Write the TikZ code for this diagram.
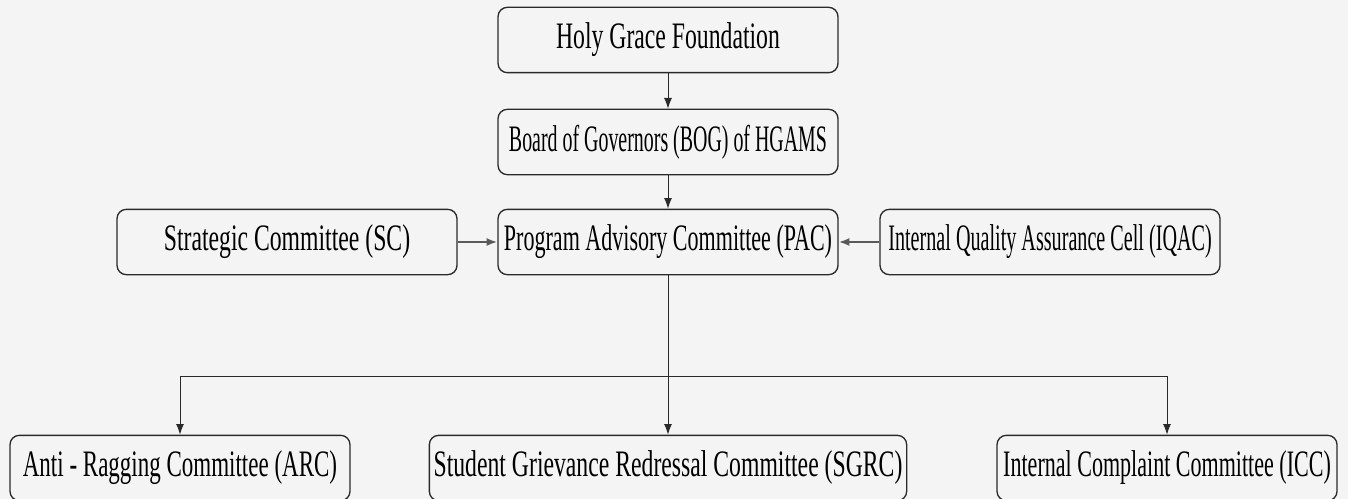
\documentclass[tikz,border=0pt]{standalone}
\usepackage{fontspec}
\setmainfont{Liberation Serif}[FakeStretch=0.635]
\usepackage{graphicx}
\usepackage{tikz}
\usetikzlibrary{arrows.meta}
\usetikzlibrary{positioning}
\definecolor{bgray}{HTML}{F4F4F4}
\definecolor{offblack}{HTML}{2A2A2A}
\definecolor{midgray}{HTML}{5A5A5A}
\newcommand{\squeeze}[2]{\scalebox{#1}[1]{#2}}

\begin{document}
\begin{tikzpicture}[x=0.75pt, y=-0.75pt,
    box/.style={draw=offblack, line width=1pt, rounded corners=7pt, fill=bgray,
      minimum width=255pt, minimum height=49pt, inner sep=1pt,
      font=\fontsize{28}{30}\selectfont},
    link/.style={offblack, line width=0.7pt, -{Latex[length=8pt, width=6pt]}},
    side/.style={midgray, line width=1.7pt, -{Latex[length=8pt, width=6pt, fill=offblack]}}]

        \fill [bgray] (0,0) rectangle (1348,499);
        \useasboundingbox (0,0) rectangle (1348,499);

        % top of the chart
        \node [box] (hgf) at (668,40) {Holy Grace Foundation};
        \node [box] (bog) at (668,142) {\squeeze{0.84}{Board of Governors (BOG) of HGAMS}};

        % middle row
        \node [box] (pac) at (668,242) {\squeeze{0.93}{Program Advisory Committee (PAC)}};
        \node [box] (sc) at (287,242) {Strategic Committee (SC)};
        \node [box] (iqac) at (1050,242) {\squeeze{0.85}{Internal Quality Assurance Cell (IQAC)}};

        % committees
        \node [box] (arc) at (180,468) {\squeeze{0.97}{Anti - Ragging Committee (ARC)}};
        \node [box, minimum width=358pt] (sgrc) at (668,468)
            {Student Grievance Redressal Committee (SGRC)};
        \node [box] (icc) at (1167,468) {\squeeze{0.93}{Internal Complaint Committee (ICC)}};

        \coordinate (bus) at (668,376);

        \draw [link] (hgf.south) -- (bog.north);
        \draw [link] (bog.south) -- (pac.north);

        \draw [side] (sc.east) -- (pac.west);
        \draw [side] (iqac.west) -- (pac.east);

        \draw [link] (pac.south) -- (sgrc.north);
        \draw [link] (bus) -| (arc.north);
        \draw [link] (bus) -| (icc.north);
    \end{tikzpicture}
\end{document}
